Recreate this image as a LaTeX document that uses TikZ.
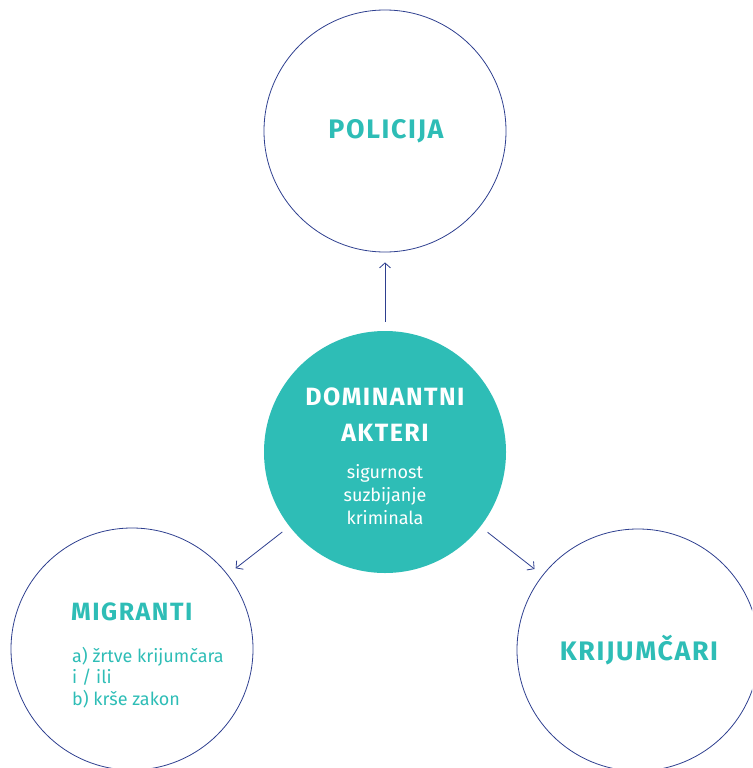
\documentclass[tikz,border=0pt]{standalone}
\usepackage{fontspec}
\setmainfont{Fira Sans}
\newfontfamily\headfont[LetterSpace=6]{Fira Sans}
\usetikzlibrary{arrows.meta}
\definecolor{teal1}{HTML}{2EBDB6}
\definecolor{navy1}{HTML}{2E3F8F}
\tikzset{
  ring/.style={circle, draw=navy1, line width=0.8pt, minimum size=242pt, inner sep=0pt},
  hub/.style={circle, fill=teal1, minimum size=242pt, inner sep=0pt},
  headt/.style={font=\headfont\bfseries\fontsize{25}{30}\selectfont, text=teal1, inner sep=0pt},
  headbig/.style={headt, font=\headfont\bfseries\fontsize{26.8}{30}\selectfont},
  headw/.style={font=\headfont\bfseries\fontsize{25}{36}\selectfont, text=white, inner sep=0pt, align=center},
  smallw/.style={font=\fontsize{18}{23}\selectfont, text=white, inner sep=0pt, align=center},
  smallt/.style={font=\fontsize{18}{21.5}\selectfont, text=teal1, inner sep=0pt, align=left},
  conn/.style={draw=navy1, line width=0.8pt, -{Straight Barb[length=5pt,width=11pt]}, shorten <=9pt, shorten >=10pt}
}
\begin{document}
\begin{tikzpicture}[x=1pt,y=-1pt]
\useasboundingbox (0,0) rectangle (752,768);
\clip (0,0) rectangle (752,768);
\node[ring] (pol) at (385,131) {};
\node[hub] (dom) at (385,452) {};
\node[ring] (mig) at (132,649) {};
\node[ring] (kri) at (638,650) {};
\node[headbig] (tpol) at (386,131) {POLICIJA};
\node[headw] (tdom) at (385,415) {DOMINANTNI\\AKTERI};
\node[smallw] (sdom) at (385,495) {sigurnost\\suzbijanje\\kriminala};
\node[headt, anchor=west] (tmig) at (71,612) {MIGRANTI};
\node[smallt, anchor=north west] (smig) at (72,647) {a) žrtve krijumčara\\i / ili\\b) krše zakon};
\node[headbig] (tkri) at (639,650) {KRIJUMČARI};
\draw[conn] (dom) -- (pol);
\draw[conn] (dom) -- (mig);
\draw[conn] (dom) -- (kri);
\end{tikzpicture}
\end{document}
